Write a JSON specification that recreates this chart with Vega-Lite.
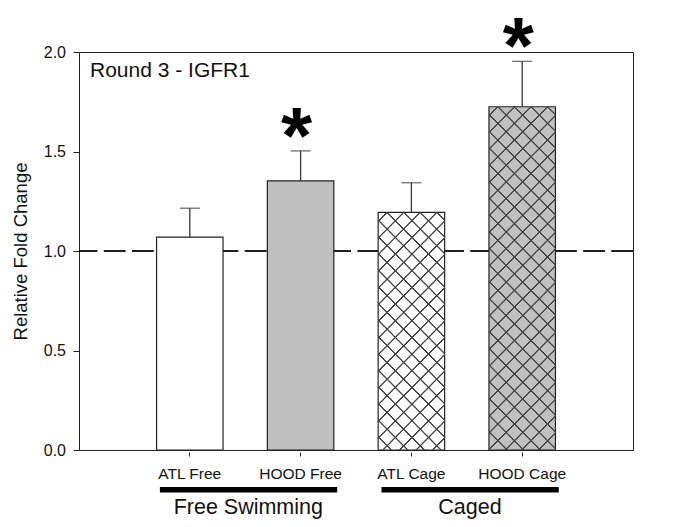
{
"$schema": "https://vega.github.io/schema/vega-lite/v6.json",
"width": 554, "height": 398,
"autosize": {"type": "none"},
"padding": {"left": 79, "top": 52, "right": 40, "bottom": 77},
"background": "white",
"title": {"text": "Round 3 - IGFR1", "anchor": "start", "frame": "group", "orient": "top", "fontSize": 21, "fontWeight": "normal", "font": "Liberation Sans", "color": "#111", "baseline": "alphabetic", "offset": 0, "dx": 11, "dy": 89},
"datasets": {
"bars": [
{"bar": "ATL Free", "mean": 1.07, "upper": 1.215, "sig": ""},
{"bar": "HOOD Free", "mean": 1.352, "upper": 1.503, "sig": "*"},
{"bar": "ATL Cage", "mean": 1.194, "upper": 1.343, "sig": ""},
{"bar": "HOOD Cage", "mean": 1.725, "upper": 1.953, "sig": "*"}
],
"groups": [
{"group": "Free Swimming", "from": "ATL Free", "to": "HOOD Free"},
{"group": "Caged", "from": "ATL Cage", "to": "HOOD Cage"}
]
},
"data": {"name": "bars"},
"config": {
"font": "Liberation Sans",
"view": {"stroke": "#222", "strokeWidth": 1},
"axis": {"grid": false, "labelColor": "#111", "tickColor": "#222", "labelFont": "Liberation Sans", "titleFont": "Liberation Sans", "titleColor": "#111"},
"axisX": {"domain": false, "tickSize": 4, "offset": 2, "labelPadding": 10.5, "labelFontSize": 15.5, "labelAngle": 0},
"axisY": {"domain": false, "tickSize": 6, "labelPadding": 7.5, "labelFontSize": 16, "titleFontSize": 18.5, "titleFontWeight": "normal", "titleX": -59, "titleY": 199, "titleAlign": "center", "titleBaseline": "middle", "titleAngle": -90}
},
"layer": [
{"mark": {"type": "rule", "strokeDash": [21.5, 6.7], "color": "#111", "strokeWidth": 1},
 "encoding": {"y": {"datum": 1, "type": "quantitative"}}},
{"mark": {"type": "bar", "stroke": "#222", "strokeWidth": 1.2},
 "encoding": {
  "x": {"field": "bar", "type": "nominal", "title": null, "sort": null, "scale": {"domain": ["ATL Free", "HOOD Free", "ATL Cage", "HOOD Cage"], "paddingInner": 0.4, "paddingOuter": 0.7}},
  "y": {"field": "mean", "type": "quantitative", "title": "Relative Fold Change", "scale": {"domain": [0, 2], "nice": false}, "axis": {"values": [0, 0.5, 1, 1.5, 2], "format": ".1f"}},
  "fill": {"field": "bar", "type": "nominal", "legend": null, "scale": {"domain": ["ATL Free", "HOOD Free", "ATL Cage", "HOOD Cage"], "range": ["#ffffff", "#c0c0c0", "#ffffff", "#c0c0c0"]}}
 }},
{"transform": [{"filter": "datum.bar == 'ATL Cage'"}],
 "mark": {"type": "bar", "fill": {"gradient": "linear", "x1": 0, "y1": 0, "x2": 0.33427, "y2": 1.1874, "stops": [
{"offset":0.02525,"color":"rgba(68,68,68,0)"},{"offset":0.02754,"color":"#444"},{"offset":0.03148,"color":"#444"},{"offset":0.03377,"color":"rgba(68,68,68,0)"},
{"offset":0.08000,"color":"rgba(68,68,68,0)"},{"offset":0.08230,"color":"#444"},{"offset":0.08623,"color":"#444"},{"offset":0.08852,"color":"rgba(68,68,68,0)"},
{"offset":0.13475,"color":"rgba(68,68,68,0)"},{"offset":0.13705,"color":"#444"},{"offset":0.14098,"color":"#444"},{"offset":0.14328,"color":"rgba(68,68,68,0)"},
{"offset":0.18951,"color":"rgba(68,68,68,0)"},{"offset":0.19180,"color":"#444"},{"offset":0.19574,"color":"#444"},{"offset":0.19803,"color":"rgba(68,68,68,0)"},
{"offset":0.24426,"color":"rgba(68,68,68,0)"},{"offset":0.24656,"color":"#444"},{"offset":0.25049,"color":"#444"},{"offset":0.25279,"color":"rgba(68,68,68,0)"},
{"offset":0.29902,"color":"rgba(68,68,68,0)"},{"offset":0.30131,"color":"#444"},{"offset":0.30525,"color":"#444"},{"offset":0.30754,"color":"rgba(68,68,68,0)"},
{"offset":0.35377,"color":"rgba(68,68,68,0)"},{"offset":0.35607,"color":"#444"},{"offset":0.36000,"color":"#444"},{"offset":0.36230,"color":"rgba(68,68,68,0)"},
{"offset":0.40852,"color":"rgba(68,68,68,0)"},{"offset":0.41082,"color":"#444"},{"offset":0.41475,"color":"#444"},{"offset":0.41705,"color":"rgba(68,68,68,0)"},
{"offset":0.46328,"color":"rgba(68,68,68,0)"},{"offset":0.46557,"color":"#444"},{"offset":0.46951,"color":"#444"},{"offset":0.47180,"color":"rgba(68,68,68,0)"},
{"offset":0.51803,"color":"rgba(68,68,68,0)"},{"offset":0.52033,"color":"#444"},{"offset":0.52426,"color":"#444"},{"offset":0.52656,"color":"rgba(68,68,68,0)"},
{"offset":0.57279,"color":"rgba(68,68,68,0)"},{"offset":0.57508,"color":"#444"},{"offset":0.57902,"color":"#444"},{"offset":0.58131,"color":"rgba(68,68,68,0)"},
{"offset":0.62754,"color":"rgba(68,68,68,0)"},{"offset":0.62984,"color":"#444"},{"offset":0.63377,"color":"#444"},{"offset":0.63607,"color":"rgba(68,68,68,0)"},
{"offset":0.68230,"color":"rgba(68,68,68,0)"},{"offset":0.68459,"color":"#444"},{"offset":0.68852,"color":"#444"},{"offset":0.69082,"color":"rgba(68,68,68,0)"},
{"offset":0.73705,"color":"rgba(68,68,68,0)"},{"offset":0.73934,"color":"#444"},{"offset":0.74328,"color":"#444"},{"offset":0.74557,"color":"rgba(68,68,68,0)"},
{"offset":0.79180,"color":"rgba(68,68,68,0)"},{"offset":0.79410,"color":"#444"},{"offset":0.79803,"color":"#444"},{"offset":0.80033,"color":"rgba(68,68,68,0)"},
{"offset":0.84656,"color":"rgba(68,68,68,0)"},{"offset":0.84885,"color":"#444"},{"offset":0.85279,"color":"#444"},{"offset":0.85508,"color":"rgba(68,68,68,0)"},
{"offset":0.90131,"color":"rgba(68,68,68,0)"},{"offset":0.90361,"color":"#444"},{"offset":0.90754,"color":"#444"},{"offset":0.90984,"color":"rgba(68,68,68,0)"},
{"offset":0.95607,"color":"rgba(68,68,68,0)"},{"offset":0.95836,"color":"#444"},{"offset":0.96230,"color":"#444"},{"offset":0.96459,"color":"rgba(68,68,68,0)"}
]}},
 "encoding": {
  "x": {"field": "bar", "type": "nominal", "title": null, "sort": null},
  "y": {"field": "mean", "type": "quantitative", "title": "Relative Fold Change"}
 }},
{"transform": [{"filter": "datum.bar == 'ATL Cage'"}],
 "mark": {"type": "bar", "fill": {"gradient": "linear", "x1": 1, "y1": 0, "x2": 0.66573, "y2": 1.1874, "stops": [
{"offset":0.02164,"color":"rgba(68,68,68,0)"},{"offset":0.02394,"color":"#444"},{"offset":0.02787,"color":"#444"},{"offset":0.03016,"color":"rgba(68,68,68,0)"},
{"offset":0.07639,"color":"rgba(68,68,68,0)"},{"offset":0.07869,"color":"#444"},{"offset":0.08262,"color":"#444"},{"offset":0.08491,"color":"rgba(68,68,68,0)"},
{"offset":0.13115,"color":"rgba(68,68,68,0)"},{"offset":0.13345,"color":"#444"},{"offset":0.13738,"color":"#444"},{"offset":0.13967,"color":"rgba(68,68,68,0)"},
{"offset":0.18590,"color":"rgba(68,68,68,0)"},{"offset":0.18820,"color":"#444"},{"offset":0.19213,"color":"#444"},{"offset":0.19442,"color":"rgba(68,68,68,0)"},
{"offset":0.24066,"color":"rgba(68,68,68,0)"},{"offset":0.24296,"color":"#444"},{"offset":0.24689,"color":"#444"},{"offset":0.24918,"color":"rgba(68,68,68,0)"},
{"offset":0.29541,"color":"rgba(68,68,68,0)"},{"offset":0.29771,"color":"#444"},{"offset":0.30164,"color":"#444"},{"offset":0.30393,"color":"rgba(68,68,68,0)"},
{"offset":0.35016,"color":"rgba(68,68,68,0)"},{"offset":0.35246,"color":"#444"},{"offset":0.35639,"color":"#444"},{"offset":0.35868,"color":"rgba(68,68,68,0)"},
{"offset":0.40492,"color":"rgba(68,68,68,0)"},{"offset":0.40722,"color":"#444"},{"offset":0.41115,"color":"#444"},{"offset":0.41344,"color":"rgba(68,68,68,0)"},
{"offset":0.45967,"color":"rgba(68,68,68,0)"},{"offset":0.46197,"color":"#444"},{"offset":0.46590,"color":"#444"},{"offset":0.46819,"color":"rgba(68,68,68,0)"},
{"offset":0.51443,"color":"rgba(68,68,68,0)"},{"offset":0.51673,"color":"#444"},{"offset":0.52066,"color":"#444"},{"offset":0.52295,"color":"rgba(68,68,68,0)"},
{"offset":0.56918,"color":"rgba(68,68,68,0)"},{"offset":0.57148,"color":"#444"},{"offset":0.57541,"color":"#444"},{"offset":0.57770,"color":"rgba(68,68,68,0)"},
{"offset":0.62394,"color":"rgba(68,68,68,0)"},{"offset":0.62624,"color":"#444"},{"offset":0.63017,"color":"#444"},{"offset":0.63246,"color":"rgba(68,68,68,0)"},
{"offset":0.67869,"color":"rgba(68,68,68,0)"},{"offset":0.68099,"color":"#444"},{"offset":0.68492,"color":"#444"},{"offset":0.68721,"color":"rgba(68,68,68,0)"},
{"offset":0.73344,"color":"rgba(68,68,68,0)"},{"offset":0.73574,"color":"#444"},{"offset":0.73967,"color":"#444"},{"offset":0.74196,"color":"rgba(68,68,68,0)"},
{"offset":0.78820,"color":"rgba(68,68,68,0)"},{"offset":0.79050,"color":"#444"},{"offset":0.79443,"color":"#444"},{"offset":0.79672,"color":"rgba(68,68,68,0)"},
{"offset":0.84295,"color":"rgba(68,68,68,0)"},{"offset":0.84525,"color":"#444"},{"offset":0.84918,"color":"#444"},{"offset":0.85147,"color":"rgba(68,68,68,0)"},
{"offset":0.89771,"color":"rgba(68,68,68,0)"},{"offset":0.90001,"color":"#444"},{"offset":0.90394,"color":"#444"},{"offset":0.90623,"color":"rgba(68,68,68,0)"},
{"offset":0.95246,"color":"rgba(68,68,68,0)"},{"offset":0.95476,"color":"#444"},{"offset":0.95869,"color":"#444"},{"offset":0.96098,"color":"rgba(68,68,68,0)"}
]}},
 "encoding": {
  "x": {"field": "bar", "type": "nominal", "title": null, "sort": null},
  "y": {"field": "mean", "type": "quantitative", "title": "Relative Fold Change"}
 }},
{"transform": [{"filter": "datum.bar == 'HOOD Cage'"}],
 "mark": {"type": "bar", "fill": {"gradient": "linear", "x1": 0, "y1": 0, "x2": 0.2247, "y2": 1.15133, "stops": [
{"offset":0.01877,"color":"rgba(68,68,68,0)"},{"offset":0.02048,"color":"#444"},{"offset":0.02340,"color":"#444"},{"offset":0.02511,"color":"rgba(68,68,68,0)"},
{"offset":0.05947,"color":"rgba(68,68,68,0)"},{"offset":0.06118,"color":"#444"},{"offset":0.06410,"color":"#444"},{"offset":0.06581,"color":"rgba(68,68,68,0)"},
{"offset":0.10017,"color":"rgba(68,68,68,0)"},{"offset":0.10188,"color":"#444"},{"offset":0.10480,"color":"#444"},{"offset":0.10651,"color":"rgba(68,68,68,0)"},
{"offset":0.14087,"color":"rgba(68,68,68,0)"},{"offset":0.14258,"color":"#444"},{"offset":0.14550,"color":"#444"},{"offset":0.14721,"color":"rgba(68,68,68,0)"},
{"offset":0.18158,"color":"rgba(68,68,68,0)"},{"offset":0.18329,"color":"#444"},{"offset":0.18621,"color":"#444"},{"offset":0.18792,"color":"rgba(68,68,68,0)"},
{"offset":0.22228,"color":"rgba(68,68,68,0)"},{"offset":0.22399,"color":"#444"},{"offset":0.22691,"color":"#444"},{"offset":0.22862,"color":"rgba(68,68,68,0)"},
{"offset":0.26298,"color":"rgba(68,68,68,0)"},{"offset":0.26469,"color":"#444"},{"offset":0.26761,"color":"#444"},{"offset":0.26932,"color":"rgba(68,68,68,0)"},
{"offset":0.30368,"color":"rgba(68,68,68,0)"},{"offset":0.30539,"color":"#444"},{"offset":0.30831,"color":"#444"},{"offset":0.31002,"color":"rgba(68,68,68,0)"},
{"offset":0.34438,"color":"rgba(68,68,68,0)"},{"offset":0.34609,"color":"#444"},{"offset":0.34901,"color":"#444"},{"offset":0.35072,"color":"rgba(68,68,68,0)"},
{"offset":0.38508,"color":"rgba(68,68,68,0)"},{"offset":0.38679,"color":"#444"},{"offset":0.38971,"color":"#444"},{"offset":0.39142,"color":"rgba(68,68,68,0)"},
{"offset":0.42579,"color":"rgba(68,68,68,0)"},{"offset":0.42750,"color":"#444"},{"offset":0.43042,"color":"#444"},{"offset":0.43213,"color":"rgba(68,68,68,0)"},
{"offset":0.46649,"color":"rgba(68,68,68,0)"},{"offset":0.46820,"color":"#444"},{"offset":0.47112,"color":"#444"},{"offset":0.47283,"color":"rgba(68,68,68,0)"},
{"offset":0.50719,"color":"rgba(68,68,68,0)"},{"offset":0.50890,"color":"#444"},{"offset":0.51182,"color":"#444"},{"offset":0.51353,"color":"rgba(68,68,68,0)"},
{"offset":0.54789,"color":"rgba(68,68,68,0)"},{"offset":0.54960,"color":"#444"},{"offset":0.55252,"color":"#444"},{"offset":0.55423,"color":"rgba(68,68,68,0)"},
{"offset":0.58859,"color":"rgba(68,68,68,0)"},{"offset":0.59030,"color":"#444"},{"offset":0.59322,"color":"#444"},{"offset":0.59493,"color":"rgba(68,68,68,0)"},
{"offset":0.62930,"color":"rgba(68,68,68,0)"},{"offset":0.63101,"color":"#444"},{"offset":0.63393,"color":"#444"},{"offset":0.63564,"color":"rgba(68,68,68,0)"},
{"offset":0.67000,"color":"rgba(68,68,68,0)"},{"offset":0.67171,"color":"#444"},{"offset":0.67463,"color":"#444"},{"offset":0.67634,"color":"rgba(68,68,68,0)"},
{"offset":0.71070,"color":"rgba(68,68,68,0)"},{"offset":0.71241,"color":"#444"},{"offset":0.71533,"color":"#444"},{"offset":0.71704,"color":"rgba(68,68,68,0)"},
{"offset":0.75140,"color":"rgba(68,68,68,0)"},{"offset":0.75311,"color":"#444"},{"offset":0.75603,"color":"#444"},{"offset":0.75774,"color":"rgba(68,68,68,0)"},
{"offset":0.79210,"color":"rgba(68,68,68,0)"},{"offset":0.79381,"color":"#444"},{"offset":0.79673,"color":"#444"},{"offset":0.79844,"color":"rgba(68,68,68,0)"},
{"offset":0.83281,"color":"rgba(68,68,68,0)"},{"offset":0.83452,"color":"#444"},{"offset":0.83744,"color":"#444"},{"offset":0.83915,"color":"rgba(68,68,68,0)"},
{"offset":0.87351,"color":"rgba(68,68,68,0)"},{"offset":0.87522,"color":"#444"},{"offset":0.87814,"color":"#444"},{"offset":0.87985,"color":"rgba(68,68,68,0)"},
{"offset":0.91421,"color":"rgba(68,68,68,0)"},{"offset":0.91592,"color":"#444"},{"offset":0.91884,"color":"#444"},{"offset":0.92055,"color":"rgba(68,68,68,0)"},
{"offset":0.95491,"color":"rgba(68,68,68,0)"},{"offset":0.95662,"color":"#444"},{"offset":0.95954,"color":"#444"},{"offset":0.96125,"color":"rgba(68,68,68,0)"}
]}},
 "encoding": {
  "x": {"field": "bar", "type": "nominal", "title": null, "sort": null},
  "y": {"field": "mean", "type": "quantitative", "title": "Relative Fold Change"}
 }},
{"transform": [{"filter": "datum.bar == 'HOOD Cage'"}],
 "mark": {"type": "bar", "fill": {"gradient": "linear", "x1": 1, "y1": 0, "x2": 0.7753, "y2": 1.15133, "stops": [
{"offset":0.01609,"color":"rgba(68,68,68,0)"},{"offset":0.01780,"color":"#444"},{"offset":0.02072,"color":"#444"},{"offset":0.02243,"color":"rgba(68,68,68,0)"},
{"offset":0.05679,"color":"rgba(68,68,68,0)"},{"offset":0.05850,"color":"#444"},{"offset":0.06142,"color":"#444"},{"offset":0.06313,"color":"rgba(68,68,68,0)"},
{"offset":0.09749,"color":"rgba(68,68,68,0)"},{"offset":0.09920,"color":"#444"},{"offset":0.10212,"color":"#444"},{"offset":0.10383,"color":"rgba(68,68,68,0)"},
{"offset":0.13819,"color":"rgba(68,68,68,0)"},{"offset":0.13990,"color":"#444"},{"offset":0.14282,"color":"#444"},{"offset":0.14453,"color":"rgba(68,68,68,0)"},
{"offset":0.17889,"color":"rgba(68,68,68,0)"},{"offset":0.18060,"color":"#444"},{"offset":0.18352,"color":"#444"},{"offset":0.18523,"color":"rgba(68,68,68,0)"},
{"offset":0.21960,"color":"rgba(68,68,68,0)"},{"offset":0.22131,"color":"#444"},{"offset":0.22423,"color":"#444"},{"offset":0.22594,"color":"rgba(68,68,68,0)"},
{"offset":0.26030,"color":"rgba(68,68,68,0)"},{"offset":0.26201,"color":"#444"},{"offset":0.26493,"color":"#444"},{"offset":0.26664,"color":"rgba(68,68,68,0)"},
{"offset":0.30100,"color":"rgba(68,68,68,0)"},{"offset":0.30271,"color":"#444"},{"offset":0.30563,"color":"#444"},{"offset":0.30734,"color":"rgba(68,68,68,0)"},
{"offset":0.34170,"color":"rgba(68,68,68,0)"},{"offset":0.34341,"color":"#444"},{"offset":0.34633,"color":"#444"},{"offset":0.34804,"color":"rgba(68,68,68,0)"},
{"offset":0.38240,"color":"rgba(68,68,68,0)"},{"offset":0.38411,"color":"#444"},{"offset":0.38703,"color":"#444"},{"offset":0.38874,"color":"rgba(68,68,68,0)"},
{"offset":0.42311,"color":"rgba(68,68,68,0)"},{"offset":0.42482,"color":"#444"},{"offset":0.42774,"color":"#444"},{"offset":0.42945,"color":"rgba(68,68,68,0)"},
{"offset":0.46381,"color":"rgba(68,68,68,0)"},{"offset":0.46552,"color":"#444"},{"offset":0.46844,"color":"#444"},{"offset":0.47015,"color":"rgba(68,68,68,0)"},
{"offset":0.50451,"color":"rgba(68,68,68,0)"},{"offset":0.50622,"color":"#444"},{"offset":0.50914,"color":"#444"},{"offset":0.51085,"color":"rgba(68,68,68,0)"},
{"offset":0.54521,"color":"rgba(68,68,68,0)"},{"offset":0.54692,"color":"#444"},{"offset":0.54984,"color":"#444"},{"offset":0.55155,"color":"rgba(68,68,68,0)"},
{"offset":0.58591,"color":"rgba(68,68,68,0)"},{"offset":0.58762,"color":"#444"},{"offset":0.59054,"color":"#444"},{"offset":0.59225,"color":"rgba(68,68,68,0)"},
{"offset":0.62662,"color":"rgba(68,68,68,0)"},{"offset":0.62833,"color":"#444"},{"offset":0.63125,"color":"#444"},{"offset":0.63296,"color":"rgba(68,68,68,0)"},
{"offset":0.66732,"color":"rgba(68,68,68,0)"},{"offset":0.66903,"color":"#444"},{"offset":0.67195,"color":"#444"},{"offset":0.67366,"color":"rgba(68,68,68,0)"},
{"offset":0.70802,"color":"rgba(68,68,68,0)"},{"offset":0.70973,"color":"#444"},{"offset":0.71265,"color":"#444"},{"offset":0.71436,"color":"rgba(68,68,68,0)"},
{"offset":0.74872,"color":"rgba(68,68,68,0)"},{"offset":0.75043,"color":"#444"},{"offset":0.75335,"color":"#444"},{"offset":0.75506,"color":"rgba(68,68,68,0)"},
{"offset":0.78942,"color":"rgba(68,68,68,0)"},{"offset":0.79113,"color":"#444"},{"offset":0.79405,"color":"#444"},{"offset":0.79576,"color":"rgba(68,68,68,0)"},
{"offset":0.83013,"color":"rgba(68,68,68,0)"},{"offset":0.83184,"color":"#444"},{"offset":0.83476,"color":"#444"},{"offset":0.83647,"color":"rgba(68,68,68,0)"},
{"offset":0.87083,"color":"rgba(68,68,68,0)"},{"offset":0.87254,"color":"#444"},{"offset":0.87546,"color":"#444"},{"offset":0.87717,"color":"rgba(68,68,68,0)"},
{"offset":0.91153,"color":"rgba(68,68,68,0)"},{"offset":0.91324,"color":"#444"},{"offset":0.91616,"color":"#444"},{"offset":0.91787,"color":"rgba(68,68,68,0)"},
{"offset":0.95223,"color":"rgba(68,68,68,0)"},{"offset":0.95394,"color":"#444"},{"offset":0.95686,"color":"#444"},{"offset":0.95857,"color":"rgba(68,68,68,0)"}
]}},
 "encoding": {
  "x": {"field": "bar", "type": "nominal", "title": null, "sort": null},
  "y": {"field": "mean", "type": "quantitative", "title": "Relative Fold Change"}
 }},
{"mark": {"type": "rule", "color": "#333", "strokeWidth": 1.3},
 "encoding": {
  "x": {"field": "bar", "type": "nominal", "title": null, "sort": null},
  "y": {"field": "mean", "type": "quantitative", "title": "Relative Fold Change"},
  "y2": {"field": "upper"}
 }},
{"mark": {"type": "tick", "color": "#333", "size": 20, "thickness": 1.3, "orient": "horizontal"},
 "encoding": {
  "x": {"field": "bar", "type": "nominal", "title": null, "sort": null},
  "y": {"field": "upper", "type": "quantitative", "title": "Relative Fold Change"}
 }},
{"transform": [{"filter": "datum.sig != ''"}],
 "mark": {"type": "text", "font": "Liberation Sans", "fontSize": 80, "fontWeight": "bold", "color": "#000", "align": "center", "baseline": "alphabetic", "dx": -4, "dy": 12},
 "encoding": {
  "x": {"field": "bar", "type": "nominal", "title": null, "sort": null},
  "y": {"field": "upper", "type": "quantitative", "title": "Relative Fold Change"},
  "text": {"field": "sig"}
 }},
{"data": {"name": "groups"},
 "mark": {"type": "rule", "color": "#000", "strokeWidth": 5.5},
 "encoding": {
  "x": {"field": "from", "type": "nominal", "title": null, "bandPosition": 0.05},
  "x2": {"field": "to", "bandPosition": 1.05},
  "y": {"datum": -0.2, "type": "quantitative"}
 }},
{"data": {"name": "groups"},
 "mark": {"type": "text", "font": "Liberation Sans", "fontSize": 21.5, "color": "#111", "align": "center", "baseline": "alphabetic"},
 "encoding": {
  "x": {"field": "from", "type": "nominal", "title": null, "bandPosition": 1.38},
  "y": {"datum": -0.323, "type": "quantitative"},
  "text": {"field": "group"}
 }}
]
}
